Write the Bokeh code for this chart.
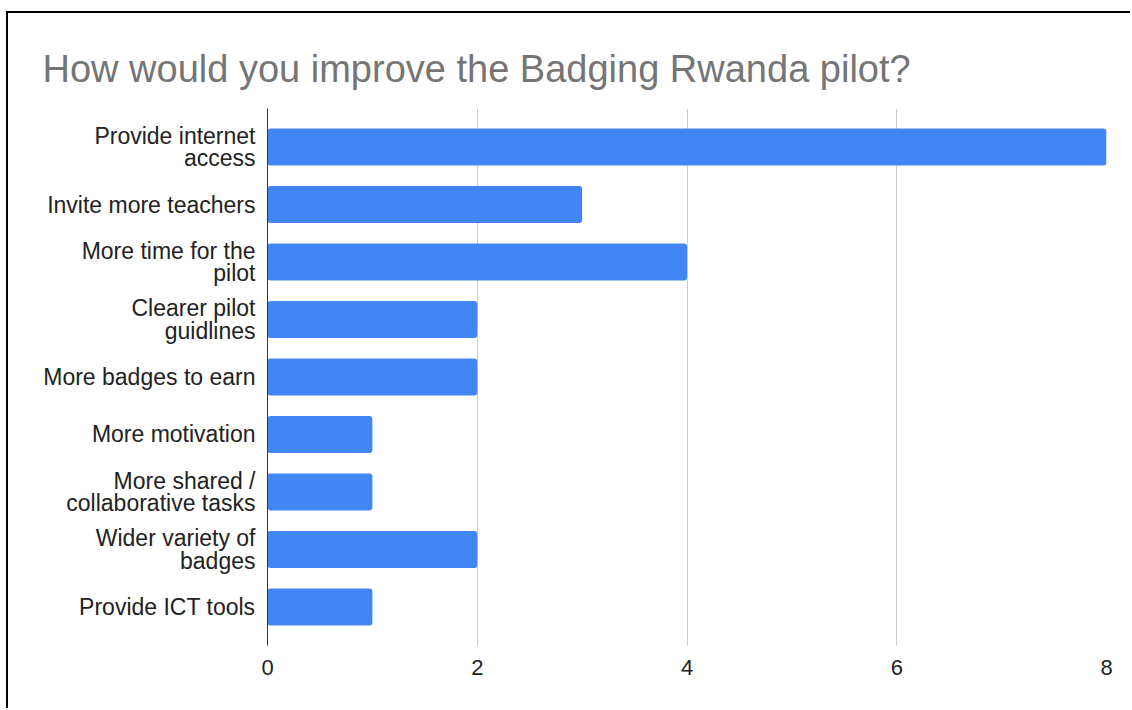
from bokeh.plotting import figure
from bokeh.models import FactorRange, Range1d, FixedTicker, Title
from bokeh.embed import file_html
from bokeh.resources import INLINE

categories = [
    "Provide internet\naccess",
    "Invite more teachers",
    "More time for the\npilot",
    "Clearer pilot\nguidlines",
    "More badges to earn",
    "More motivation",
    "More shared /\ncollaborative tasks",
    "Wider variety of\nbadges",
    "Provide ICT tools",
]
counts = [8, 3, 4, 2, 2, 1, 1, 2, 1]
x_ticks = [0, 2, 4, 6, 8]
title_text = "How would you improve the Badging Rwanda pilot?"

FONT = "Liberation Sans"

p = figure(
    width=1124, height=697,
    y_range=FactorRange(factors=list(reversed(categories)),
                        range_padding=0.17, range_padding_units="absolute"),
    x_range=Range1d(0, 8),
    output_backend="svg", toolbar_location=None,
    min_border_left=259, min_border_right=26, min_border_top=95, min_border_bottom=65,
)
p.styles = {"border-left": "2px solid black", "border-top": "2px solid black",
            "margin-left": "6px", "margin-top": "11px"}

p.title = Title(text=title_text, text_font=FONT, text_font_size="38px",
                text_font_style="normal", text_color="#757575", align="left",
                offset=-225, standoff=38)

p.hbar(y=categories, right=counts, left=0, height=0.64, color="#4285F4",
       line_color=None, border_radius=3)

p.outline_line_color = None
p.ygrid.grid_line_color = None
p.xgrid.grid_line_color = "#cccccc"
p.xgrid.grid_line_width = 1
p.xgrid.ticker = FixedTicker(ticks=[2, 4, 6, 8])

p.xaxis.ticker = FixedTicker(ticks=x_ticks)
p.xaxis.axis_line_color = None
p.xaxis.major_tick_line_color = None
p.xaxis.minor_tick_line_color = None
p.xaxis.major_label_text_font = FONT
p.xaxis.major_label_text_font_size = "22px"
p.xaxis.major_label_text_color = "#222222"
p.xaxis.major_label_standoff = 8

p.yaxis.axis_line_color = "#333333"
p.yaxis.axis_line_width = 1
p.yaxis.major_tick_line_color = None
p.yaxis.minor_tick_line_color = None
p.yaxis.major_label_text_font = FONT
p.yaxis.major_label_text_font_size = "23px"
p.yaxis.major_label_text_color = "#222222"
p.yaxis.major_label_text_line_height = 0.85
p.yaxis.major_label_standoff = 6
p.yaxis.major_label_text_align = "right"

open("out.html", "w").write(file_html(p, INLINE))
